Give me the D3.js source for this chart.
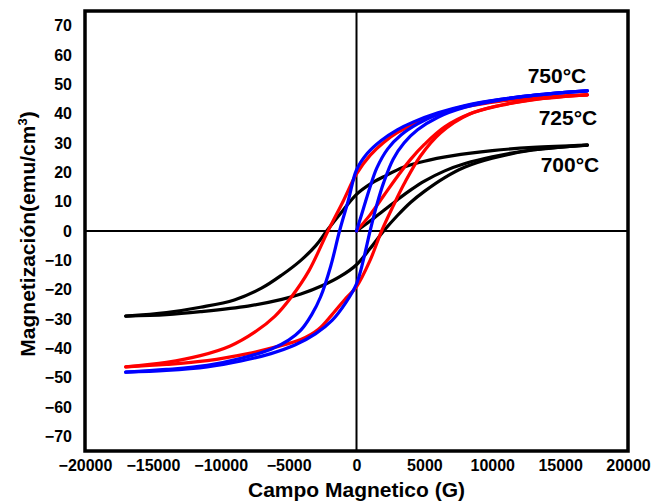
<!DOCTYPE html>
<html>
<head>
<meta charset="utf-8">
<script src="https://cdn.jsdelivr.net/npm/d3@7"></script>
<style>
  html, body { margin: 0; padding: 0; background: #fff; }
  svg { display: block; font-family: "Liberation Sans", Arial, sans-serif; }
  .tick text { font-weight: bold; font-size: 16px; fill: #000; }
  .title { font-weight: bold; font-size: 21px; fill: #000; }
  .series-label { font-weight: bold; font-size: 21px; fill: #000; }
</style>
</head>
<body>
<div id="chart"></div>
<script>
// Tick labels
const xTicks = [-20000, -15000, -10000, -5000, 0, 5000, 10000, 15000, 20000];
const yTicks = [-70, -60, -50, -40, -30, -20, -10, 0, 10, 20, 30, 40, 50, 60, 70];

const seriesNames = ['700°C', '725°C', '750°C'];

// 700°C loop: [H (G), M (emu/cm3)]
const upper700 = [[-17000, -29.0], [-14000, -27.8], [-11500, -26], [-9000, -23.5], [-7000, -19.5],
  [-5500, -15], [-4100, -10], [-3000, -5], [-2200, 0], [-1000, 7], [0, 12.5], [1000, 16],
  [2000, 18.5], [3500, 21.8], [5000, 23.8], [7000, 25.6], [10000, 27.4], [13000, 28.5], [17000, 29.3]];
const lower700 = [[-17000, -29.0], [-14000, -28.5], [-11500, -27.5], [-8000, -25.6], [-5500, -23.3],
  [-4100, -21.5], [-2500, -18.6], [-1200, -15.5], [0, -11.5], [1000, -6], [2000, 0], [3000, 5.2],
  [4000, 9.8], [5000, 13.5], [6500, 18.2], [8000, 21.8], [10000, 24.8], [13000, 27.6], [17000, 29.3]];
const virgin700 = [[0, 0], [1000, 3.4], [2000, 7], [3000, 10.6], [4000, 14], [5000, 17],
  [6500, 20.5], [8000, 23], [10000, 25.3], [13000, 27.7], [17000, 29.3]];

// 725°C loop
const upper725 = [[-17000, -46.3], [-14000, -44.8], [-11500, -42.5], [-9300, -39.2], [-7500, -34.5],
  [-6000, -29], [-4800, -22.5], [-3500, -13.5], [-2100, 0], [-1000, 10], [0, 19.5], [1000, 25.8],
  [2000, 30.2], [3000, 33.5], [4500, 37], [6000, 39.8], [8000, 42.3], [10500, 44.2], [13500, 45.5],
  [17000, 46.4]];
const lower725 = [[-17000, -46.3], [-14000, -45.5], [-11000, -44.2], [-8000, -41.8], [-6000, -39.6],
  [-4100, -37], [-2800, -33.5], [-1800, -28.5], [-800, -23], [0, -19], [1000, -10], [1850, 0],
  [2700, 8.5], [3500, 16], [4700, 25.5], [6200, 33.5], [8300, 39.8], [10600, 42.8], [13500, 45],
  [17000, 46.4]];
const virgin725 = [[0, 0], [1000, 5.5], [2000, 12], [3000, 18.5], [4000, 24.5], [5000, 29.5],
  [6500, 35.5], [8500, 40.2], [11000, 43.3], [14000, 45.4], [17000, 46.4]];

// 750°C loop
const upper750 = [[-17000, -48.1], [-14000, -47.2], [-11000, -45.8], [-8500, -43.4], [-6300, -40.3],
  [-5000, -37.2], [-4100, -33.8], [-3300, -28.5], [-2650, -22.5], [-1900, -12], [-1250, 0],
  [-600, 10.5], [0, 20.8], [800, 26.5], [1800, 30.8], [3000, 34.5], [4200, 37.2], [6000, 40.3],
  [8000, 42.8], [10500, 44.8], [13500, 46.5], [17000, 47.8]];
const lower750 = [[-17000, -48.1], [-14000, -47.5], [-11000, -46.3], [-8500, -44.3], [-6300, -41.8],
  [-4500, -38.8], [-3000, -35], [-1800, -30.5], [-800, -24.5], [0, -18], [500, -10], [1000, 0],
  [1500, 9], [2000, 16.5], [2700, 24.5], [3500, 30], [4500, 34.5], [6000, 38.8], [8000, 42.2],
  [10500, 44.6], [13500, 46.5], [17000, 47.8]];
const virgin750 = [[0, 0], [500, 7.5], [1000, 15], [1500, 21.5], [2300, 28], [3300, 32.8],
  [4500, 36.5], [6000, 39.8], [8000, 42.6], [10500, 44.8], [13500, 46.5], [17000, 47.8]];

const width = 662, height = 502;
const margin = { top: 11, right: 34, bottom: 51, left: 85 };

const x = d3.scaleLinear().domain([-20000, 20000]).range([margin.left, width - margin.right]);
const y = d3.scaleLinear().domain([-75, 75]).range([height - margin.bottom, margin.top]);

const svg = d3.select('#chart').append('svg')
  .attr('width', width)
  .attr('height', height);

// Zero lines
svg.append('line')
  .attr('x1', x(-20000)).attr('x2', x(20000))
  .attr('y1', y(0)).attr('y2', y(0))
  .attr('stroke', '#000').attr('stroke-width', 2);
svg.append('line')
  .attr('x1', x(0)).attr('x2', x(0))
  .attr('y1', y(-75)).attr('y2', y(75))
  .attr('stroke', '#000').attr('stroke-width', 2);

const line = d3.line()
  .x(d => x(d[0]))
  .y(d => y(d[1]))
  .curve(d3.curveCatmullRom.alpha(0.5));

const loops = [
  { color: '#000000', branches: [upper700, lower700, virgin700] },
  { color: '#ff0000', branches: [upper725, lower725, virgin725] },
  { color: '#0000ff', branches: [upper750, lower750, virgin750] }
];

loops.forEach(loop => {
  svg.append('g').selectAll('path')
    .data(loop.branches)
    .enter().append('path')
    .attr('d', line)
    .attr('fill', 'none')
    .attr('stroke', loop.color)
    .attr('stroke-width', 3.2)
    .attr('stroke-linecap', 'round');
});

// Frame
svg.append('rect')
  .attr('x', x(-20000)).attr('y', y(75))
  .attr('width', x(20000) - x(-20000))
  .attr('height', y(-75) - y(75))
  .attr('fill', 'none')
  .attr('stroke', '#000')
  .attr('stroke-width', 3.5);

// Axes (labels only, no tick marks)
const xAxis = svg.append('g')
  .attr('transform', `translate(0,${y(-75)})`)
  .call(d3.axisBottom(x).tickValues(xTicks).tickSize(0).tickPadding(9).tickFormat(d3.format('d')));
xAxis.select('.domain').remove();

const yAxis = svg.append('g')
  .attr('transform', `translate(${x(-20000) - 13},0)`)
  .call(d3.axisLeft(y).tickValues(yTicks).tickSize(0).tickPadding(0).tickFormat(d3.format('d')));
yAxis.select('.domain').remove();
svg.selectAll('.tick text').attr('font-family', null).attr('font-size', null);

// Axis titles
svg.append('text')
  .attr('class', 'title')
  .attr('x', x(0))
  .attr('y', 497)
  .attr('text-anchor', 'middle')
  .text('Campo Magnetico (G)');

const yTitle = svg.append('text')
  .attr('class', 'title')
  .attr('transform', `translate(35,${y(0) + 3}) rotate(-90)`)
  .attr('text-anchor', 'middle');
yTitle.append('tspan').text('Magnetización(emu/cm');
yTitle.append('tspan').attr('font-size', '13px').attr('dy', '-8').text('3');
yTitle.append('tspan').attr('dy', '8').text(')');

// Series labels
const labelPos = { '750°C': [557, 83], '725°C': [568, 125], '700°C': [570, 172] };
svg.append('g').selectAll('text')
  .data(seriesNames)
  .enter().append('text')
  .attr('class', 'series-label')
  .attr('x', d => labelPos[d][0])
  .attr('y', d => labelPos[d][1])
  .attr('text-anchor', 'middle')
  .text(d => d);
</script>
</body>
</html>
